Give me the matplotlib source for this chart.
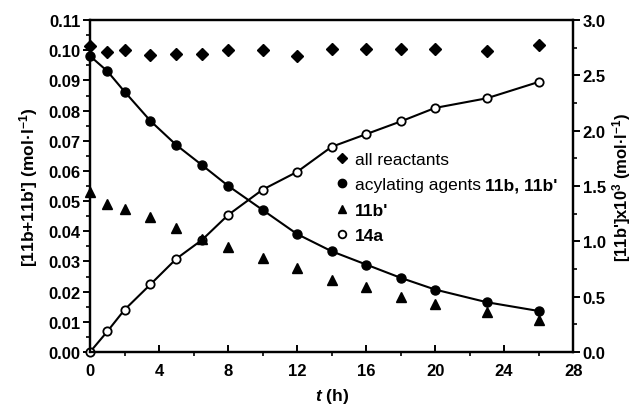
import matplotlib.pyplot as plt
from matplotlib.ticker import MultipleLocator, FormatStrFormatter
from matplotlib.lines import Line2D

plt.rcParams['font.family'] = ['Liberation Sans', 'DejaVu Sans']
plt.rcParams['font.weight'] = 'bold'
plt.rcParams['mathtext.fontset'] = 'custom'
plt.rcParams['mathtext.rm'] = 'Liberation Sans:bold'
plt.rcParams['mathtext.bf'] = 'Liberation Sans:bold'
plt.rcParams['mathtext.it'] = 'Liberation Sans:italic:bold'

# sampling times (h)
t_all = [0, 1, 2, 3.5, 5, 6.5, 8, 10, 12, 14, 16, 18, 20, 23, 26]
all_reactants = [0.1013, 0.0995, 0.1000, 0.0984, 0.0989, 0.0989, 0.1001, 0.1001,
                 0.0981, 0.1005, 0.1005, 0.1005, 0.1005, 0.0997, 0.1016]
acylating = [0.0981, 0.0931, 0.0863, 0.0766, 0.0686, 0.0619, 0.0551, 0.0471,
             0.0391, 0.0334, 0.0290, 0.0246, 0.0207, 0.0165, 0.0136]
# 11b' on the right axis (x10^3 mol/l)
b11_prime = [1.45, 1.34, 1.29, 1.22, 1.12, 1.02, 0.95, 0.85,
             0.76, 0.655, 0.586, 0.50, 0.436, 0.361, 0.285]
prod_14a = [0.0, 0.0068, 0.0140, 0.0224, 0.0309, 0.0372, 0.0454, 0.0538,
            0.0597, 0.0680, 0.0722, 0.0764, 0.0809, 0.0841, 0.0895]

fig = plt.figure(figsize=(6.34, 4.06), dpi=100)
ax = fig.add_axes([0.142, 0.1305, 0.762, 0.8175])
ax2 = ax.twinx()

ax.plot(t_all, acylating, '-', color='black', lw=1.5, zorder=2)
ax.plot(t_all, prod_14a, '-', color='black', lw=1.5, zorder=2)
ax.plot(t_all, all_reactants, 'D', color='black', ms=6, zorder=3, clip_on=False)
ax.plot(t_all, acylating, 'o', color='black', ms=6.5, zorder=3, clip_on=False)
ax.plot(t_all, prod_14a, 'o', mfc='white', mec='black', mew=1.3, ms=6,
        zorder=4, clip_on=False)
ax2.plot(t_all, b11_prime, '^', color='black', ms=7, clip_on=False)

ax.set_xlim(0, 28)
ax.set_ylim(0, 0.11)
ax2.set_ylim(0, 3.0)

ax.xaxis.set_major_locator(MultipleLocator(4))
ax.xaxis.set_minor_locator(MultipleLocator(2))
ax.yaxis.set_major_locator(MultipleLocator(0.01))
ax.yaxis.set_minor_locator(MultipleLocator(0.005))
ax.yaxis.set_major_formatter(FormatStrFormatter('%.2f'))
ax2.yaxis.set_major_locator(MultipleLocator(0.5))
ax2.yaxis.set_minor_locator(MultipleLocator(0.25))
ax2.yaxis.set_major_formatter(FormatStrFormatter('%.1f'))

for a in (ax, ax2):
    for s in a.spines.values():
        s.set_linewidth(1.6)
    a.tick_params(labelsize=12, width=1.4, length=5, pad=2)
    a.tick_params(which='minor', width=1.2, length=3)
ax.tick_params(axis='x', direction='in', pad=8)

ax.set_ylabel("[11b+11b'] (mol·l$^{-1}$)", fontsize=12.5, fontweight='bold', labelpad=6)
ax2.set_ylabel("[11b']x10$^{3}$ (mol·l$^{-1}$)", fontsize=12,
               fontweight='bold', labelpad=3)
ax.set_xlabel("$\\mathit{t}$ (h)", fontsize=12.5, fontweight='bold', labelpad=6)

handles = [
    Line2D([], [], ls='none', marker='D', color='black', ms=5),
    Line2D([], [], ls='none', marker='o', color='black', ms=6),
    Line2D([], [], ls='none', marker='^', color='black', ms=6),
    Line2D([], [], ls='none', marker='o', mfc='white', mec='black', mew=1.3, ms=5.5),
]
labels = ["all reactants", "acylating agents ", "11b'", "14a"]
leg = ax.legend(handles, labels, loc='upper left', bbox_to_anchor=(0.49, 0.625),
                frameon=False, handletextpad=0.2, handlelength=1.0,
                labelspacing=0.6, fontsize=12.5, borderaxespad=0)
texts = leg.get_texts()
texts[0].set_fontweight('normal')
texts[1].set_fontweight('normal')

# bold compound names after the normal-weight legend text
fig.canvas.draw()
bb = texts[1].get_window_extent()
x_end, y_mid = fig.transFigure.inverted().transform((bb.x1, (bb.y0 + bb.y1) / 2))
fig.text(x_end, y_mid, "11b, 11b'", fontsize=12.5, fontweight='bold',
         ha='left', va='center')

fig.savefig('out.png', dpi=100)
